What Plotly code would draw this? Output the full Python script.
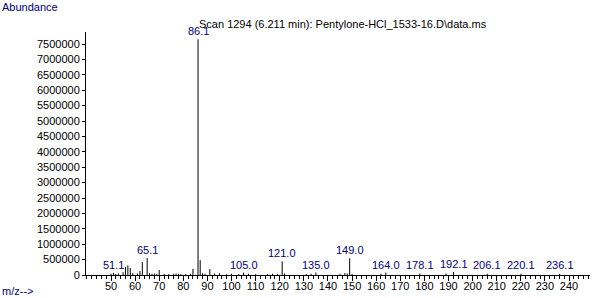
import plotly.graph_objects as go

# m/z values and abundances
mz = [50, 51, 52, 53, 55, 56, 57, 58, 59, 61, 62, 63, 65, 66, 67, 68, 69, 70,
      72, 74, 76, 77, 78, 79, 81, 83, 84, 86.1, 87, 88, 89, 91, 93, 95, 98,
      100, 103, 105, 107, 110, 115, 117, 119, 121, 122, 131, 133, 135, 145,
      147, 148, 149, 150, 162, 164, 178.1, 189, 192.1, 206.1, 220.1, 236.1]
abund = [40000, 70000, 30000, 50000, 90000, 260000, 310000, 230000, 60000, 50000,
         130000, 420000, 550000, 60000, 40000, 50000, 40000, 160000,
         40000, 30000, 40000, 50000, 40000, 30000, 30000, 40000, 200000, 7650000,
         480000, 60000, 40000, 190000, 50000, 60000, 30000,
         40000, 30000, 80000, 40000, 30000, 30000, 40000, 40000, 440000, 50000,
         30000, 40000, 80000, 40000,
         60000, 50000, 540000, 40000, 40000, 80000, 50000, 50000, 100000, 40000, 40000, 40000]

labelled = [51.1, 65.1, 86.1, 105.0, 121.0, 135.0, 149.0, 164.0, 178.1, 192.1, 206.1, 220.1, 236.1]
label_y = [60000, 550000, 7650000, 80000, 440000, 80000, 540000, 80000, 50000, 100000, 50000, 50000, 50000]

y_ticks = list(range(0, 7500001, 500000))
x_ticks = list(range(50, 241, 10))

title_text = "Scan 1294 (6.211 min): Pentylone-HCl_1533-16.D\\data.ms"

xs, ys = [], []
for m, a in zip(mz, abund):
    xs += [m, m, None]
    ys += [0, a, None]

x_range = [39.63, 248.7]

fig = go.Figure()
fig.add_trace(go.Scatter(x=xs, y=ys, mode="lines",
                         line=dict(color="black", width=1), hoverinfo="skip",
                         showlegend=False))
# invisible helper trace so the overlay axis (major tick marks) is drawn
fig.add_trace(go.Scatter(x=[x_range[0]], y=[0], xaxis="x2", mode="markers",
                         marker=dict(opacity=0), hoverinfo="skip", showlegend=False))

navy = "#000080"
font_main = "Liberation Sans, Arial, sans-serif"

for lx, ly in zip(labelled, label_y):
    fig.add_annotation(x=lx, y=ly, text=f"{lx:.1f}", showarrow=False,
                       xanchor="center", yanchor="bottom", yshift=0,
                       font=dict(color=navy, size=11, family=font_main))

fig.add_annotation(x=0, y=1, xref="paper", yref="paper", text="Abundance",
                   showarrow=False, xanchor="left", yanchor="middle",
                   xshift=-86, yshift=25,
                   font=dict(color=navy, size=11, family=font_main))
fig.add_annotation(x=0, y=0, xref="paper", yref="paper", text="m/z-->",
                   showarrow=False, xanchor="left", yanchor="middle",
                   xshift=-86, yshift=-16,
                   font=dict(color=navy, size=11, family=font_main))
fig.add_annotation(x=86.1, y=1, xref="x", yref="paper", text=title_text,
                   showarrow=False, xanchor="left", yanchor="middle",
                   xshift=-1, yshift=8,
                   font=dict(color="black", size=11, family=font_main))

fig.update_layout(
    width=600, height=298,
    margin=dict(l=86, r=10, t=32, b=23, autoexpand=False),
    paper_bgcolor="white", plot_bgcolor="white",
    font=dict(family=font_main, size=11, color="black"),
    xaxis=dict(range=x_range, tickvals=x_ticks, ticks="outside", ticklen=1,
               tickcolor="black", showgrid=False, zeroline=False, automargin=False,
               showline=True, linecolor="black", linewidth=1,
               minor=dict(dtick=2, tick0=0, ticks="outside", ticklen=3, tickcolor="black"),
               tickfont=dict(size=11)),
    xaxis2=dict(range=x_range, overlaying="x", anchor="y", side="bottom",
                tickvals=x_ticks, ticks="outside", ticklen=5, tickcolor="black",
                showticklabels=False, showgrid=False, zeroline=False,
                showline=False, automargin=False),
    yaxis=dict(range=[0, 7890000], tickvals=y_ticks, tickformat="d", automargin=False,
               ticks="outside", ticklen=3, tickcolor="black",
               showgrid=False, zeroline=False, showline=True,
               linecolor="black", linewidth=1, tickfont=dict(size=11)),
)

fig.write_html("out.html")
